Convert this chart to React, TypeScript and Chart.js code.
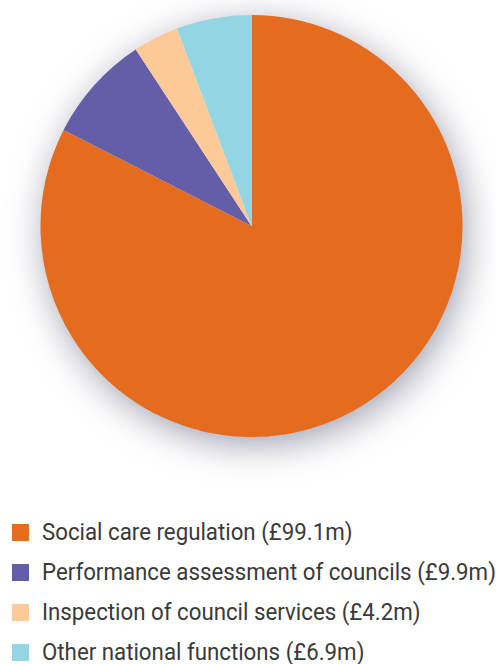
import React, { useEffect, useRef } from "react";
import { Chart, registerables } from "chart.js";

Chart.register(...registerables);

const categories = [
  "Social care regulation",
  "Performance assessment of councils",
  "Inspection of council services",
  "Other national functions",
];
const values = [99.1, 9.9, 4.2, 6.9];
const valueLabels = ["£99.1m", "£9.9m", "£4.2m", "£6.9m"];
const colors = ["#E56B1F", "#645EA8", "#FDC997", "#93D5E2"];

const shadowPlugin = {
  id: "pieShadow",
  beforeDatasetsDraw(chart: any) {
    const meta = chart.getDatasetMeta(0);
    const arc: any = meta.data[0];
    if (!arc) return;
    const x = arc.x;
    const y = arc.y;
    const r = arc.outerRadius;
    const ctx = chart.ctx;
    ctx.save();
    ctx.shadowColor = "rgba(90,90,120,0.6)";
    ctx.shadowBlur = 36;
    ctx.shadowOffsetX = 4;
    ctx.shadowOffsetY = 8;
    ctx.fillStyle = "#ffffff";
    ctx.beginPath();
    ctx.arc(x, y, r - 1, 0, Math.PI * 2);
    ctx.fill();
    ctx.restore();
  },
};

export default function App() {
  const ref = useRef<HTMLCanvasElement | null>(null);

  useEffect(() => {
    document.body.style.margin = "0";
    if (!ref.current) return;
    const chart = new Chart(ref.current, {
      type: "pie",
      data: {
        labels: categories,
        datasets: [
          {
            data: values,
            backgroundColor: colors,
            borderWidth: 0,
          },
        ],
      },
      options: {
        responsive: false,
        animation: false,
        layout: { padding: { top: 15, bottom: 53, left: 7, right: 0 } },
        plugins: {
          legend: { display: false },
          tooltip: { enabled: false },
        },
      },
      plugins: [shadowPlugin],
    });
    return () => chart.destroy();
  }, []);

  return (
    <div style={{ position: "relative", width: 496, height: 664, overflow: "hidden", background: "#fff" }}>
      <canvas ref={ref} width={496} height={490} style={{ position: "absolute", left: 0, top: 0 }} />
      {categories.map((c, i) => (
        <div key={c} style={{ position: "absolute", left: 0, top: 514 + i * 40, height: 40, width: 496 }}>
          <div
            style={{
              position: "absolute",
              left: 12,
              top: 10,
              width: 17,
              height: 17,
              background: colors[i],
            }}
          />
          <div
            style={{
              position: "absolute",
              left: 42,
              top: 6,
              fontFamily: "Roboto, sans-serif",
              fontSize: 24,
              lineHeight: "24px",
              color: "#3a3a3a",
              whiteSpace: "nowrap",
              transform: "scaleX(0.928)",
              transformOrigin: "left center",
            }}
          >
            {`${c} (${valueLabels[i]})`}
          </div>
        </div>
      ))}
    </div>
  );
}
